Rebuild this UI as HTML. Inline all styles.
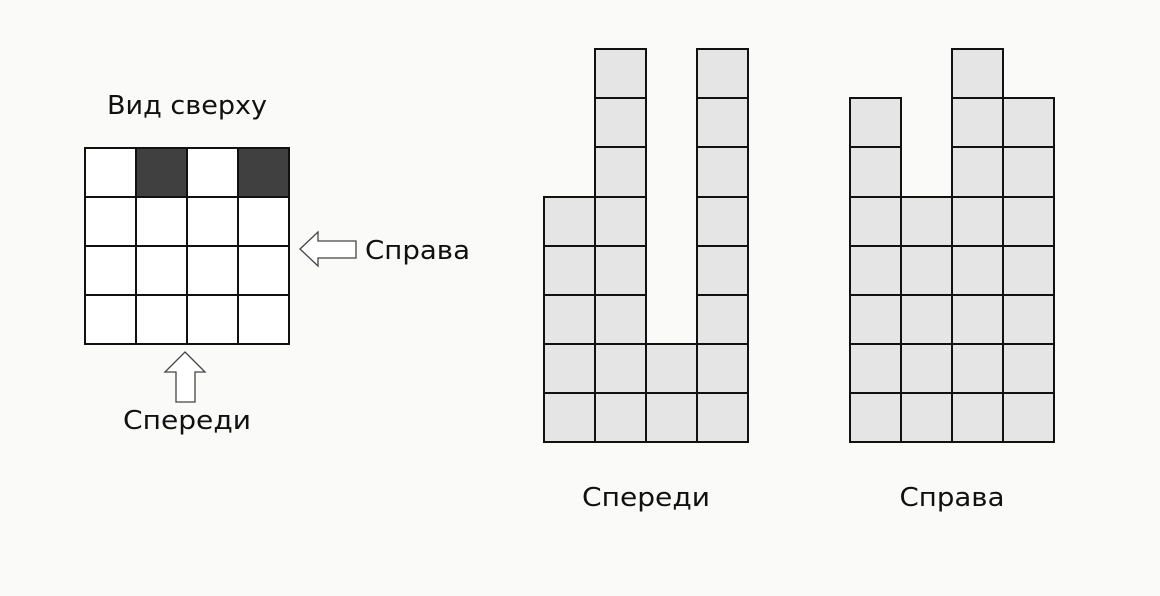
<!DOCTYPE html>
<html><head><meta charset="utf-8"><style>
html,body{margin:0;padding:0;background:#fafaf9;}
svg{display:block}
text{font-family:"DejaVu Sans","Liberation Sans",sans-serif;font-size:26px;fill:#111;}
</style></head><body>
<svg width="1160" height="596" viewBox="0 0 1160 596" xmlns="http://www.w3.org/2000/svg">
<rect width="1160" height="596" fill="#fafaf9"/>
<text x="187" y="114" text-anchor="middle" textLength="160" lengthAdjust="spacingAndGlyphs">Вид сверху</text>
<g stroke="#111" stroke-width="2">
<rect x="85" y="148" width="204" height="196" fill="#fff"/>
<rect x="136" y="148" width="51" height="49" fill="#404040"/>
<rect x="238" y="148" width="51" height="49" fill="#404040"/>
<line x1="136" y1="148" x2="136" y2="344"/><line x1="187" y1="148" x2="187" y2="344"/><line x1="238" y1="148" x2="238" y2="344"/>
<line x1="85" y1="197" x2="289" y2="197"/><line x1="85" y1="246" x2="289" y2="246"/><line x1="85" y1="295" x2="289" y2="295"/>
</g>
<g fill="#fff" stroke="#444" stroke-width="1.3">
<polygon points="300,249 318,232 318,241 356,241 356,258 318,258 318,266"/>
<polygon points="185,352 205,372 195,372 195,402 176,402 176,372 165,372"/>
</g>
<text x="365" y="259" textLength="105" lengthAdjust="spacingAndGlyphs">Справа</text>
<text x="187" y="429" text-anchor="middle" textLength="128" lengthAdjust="spacingAndGlyphs">Спереди</text>
<g stroke="#111" stroke-width="2" fill="#e6e5e6">
<rect x="544" y="197" width="51" height="49"/><rect x="544" y="246" width="51" height="49"/><rect x="544" y="295" width="51" height="49"/><rect x="544" y="344" width="51" height="49"/><rect x="544" y="393" width="51" height="49"/>
<rect x="595" y="49" width="51" height="49"/><rect x="595" y="98" width="51" height="49"/><rect x="595" y="147" width="51" height="50"/><rect x="595" y="197" width="51" height="49"/><rect x="595" y="246" width="51" height="49"/><rect x="595" y="295" width="51" height="49"/><rect x="595" y="344" width="51" height="49"/><rect x="595" y="393" width="51" height="49"/>
<rect x="646" y="344" width="51" height="49"/><rect x="646" y="393" width="51" height="49"/>
<rect x="697" y="49" width="51" height="49"/><rect x="697" y="98" width="51" height="49"/><rect x="697" y="147" width="51" height="50"/><rect x="697" y="197" width="51" height="49"/><rect x="697" y="246" width="51" height="49"/><rect x="697" y="295" width="51" height="49"/><rect x="697" y="344" width="51" height="49"/><rect x="697" y="393" width="51" height="49"/>
<rect x="850" y="98" width="51" height="49"/><rect x="850" y="147" width="51" height="50"/><rect x="850" y="197" width="51" height="49"/><rect x="850" y="246" width="51" height="49"/><rect x="850" y="295" width="51" height="49"/><rect x="850" y="344" width="51" height="49"/><rect x="850" y="393" width="51" height="49"/>
<rect x="901" y="197" width="51" height="49"/><rect x="901" y="246" width="51" height="49"/><rect x="901" y="295" width="51" height="49"/><rect x="901" y="344" width="51" height="49"/><rect x="901" y="393" width="51" height="49"/>
<rect x="952" y="49" width="51" height="49"/><rect x="952" y="98" width="51" height="49"/><rect x="952" y="147" width="51" height="50"/><rect x="952" y="197" width="51" height="49"/><rect x="952" y="246" width="51" height="49"/><rect x="952" y="295" width="51" height="49"/><rect x="952" y="344" width="51" height="49"/><rect x="952" y="393" width="51" height="49"/>
<rect x="1003" y="98" width="51" height="49"/><rect x="1003" y="147" width="51" height="50"/><rect x="1003" y="197" width="51" height="49"/><rect x="1003" y="246" width="51" height="49"/><rect x="1003" y="295" width="51" height="49"/><rect x="1003" y="344" width="51" height="49"/><rect x="1003" y="393" width="51" height="49"/>
</g>
<text x="646" y="506" text-anchor="middle" textLength="128" lengthAdjust="spacingAndGlyphs">Спереди</text>
<text x="952" y="506" text-anchor="middle" textLength="105" lengthAdjust="spacingAndGlyphs">Справа</text>
</svg>
</body></html>
